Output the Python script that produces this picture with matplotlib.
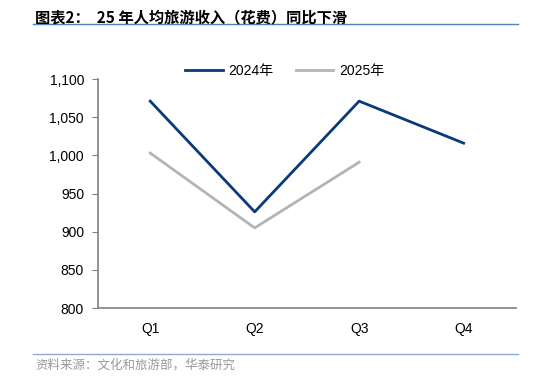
import matplotlib.pyplot as plt
from matplotlib.lines import Line2D

plt.rcParams['font.family'] = ['Liberation Sans', 'Noto Sans CJK SC']

quarters = ['Q1', 'Q2', 'Q3', 'Q4']
y2024 = [1071, 926, 1071, 1016]
y2025 = [1003, 905, 991]
yticks = [800, 850, 900, 950, 1000, 1050, 1100]

fig = plt.figure(figsize=(5.34, 3.78), dpi=100)
ax = fig.add_axes([0.1835, 0.185, 0.7825, 0.606])

ax.plot(range(len(y2024)), y2024, color='#0a3a7a', lw=2, label='2024年')
ax.plot(range(len(y2025)), y2025, color='#b4b4b4', lw=2, label='2025年')

ax.set_xlim(-0.5, 3.5)
ax.set_ylim(800, 1100)
ax.set_xticks(range(4))
ax.set_xticklabels(quarters)
ax.set_yticks(yticks)
ax.set_yticklabels([f'{v:,}' for v in yticks])
ax.tick_params(axis='x', length=0, labelsize=10, pad=10)
ax.tick_params(axis='y', length=4, color='#808080', labelsize=10, pad=6)
for s in ['top', 'right']:
    ax.spines[s].set_visible(False)
for s in ['left', 'bottom']:
    ax.spines[s].set_color('#808080')
    ax.spines[s].set_linewidth(1.2)

ax.legend(loc='upper center', bbox_to_anchor=(0.447, 1.12), ncol=2, frameon=False,
          fontsize=10, handlelength=2.7, columnspacing=1.6, handletextpad=0.4)

fig.text(0.066, 0.953, '图表2：  25 年人均旅游收入（花费）同比下滑', fontsize=11,
         fontweight='bold', family=['Noto Sans CJK SC'], va='center')
fig.add_artist(Line2D([0.062, 0.97], [0.936, 0.936], color='#4f81bd', lw=1))
fig.add_artist(Line2D([0.062, 0.97], [0.063, 0.063], color='#8eaadb', lw=1))
fig.text(0.066, 0.033, '资料来源：文化和旅游部，华泰研究', fontsize=9,
         color='#999999', family=['Noto Sans CJK SC'], va='center')

fig.savefig('out.png', dpi=100)
